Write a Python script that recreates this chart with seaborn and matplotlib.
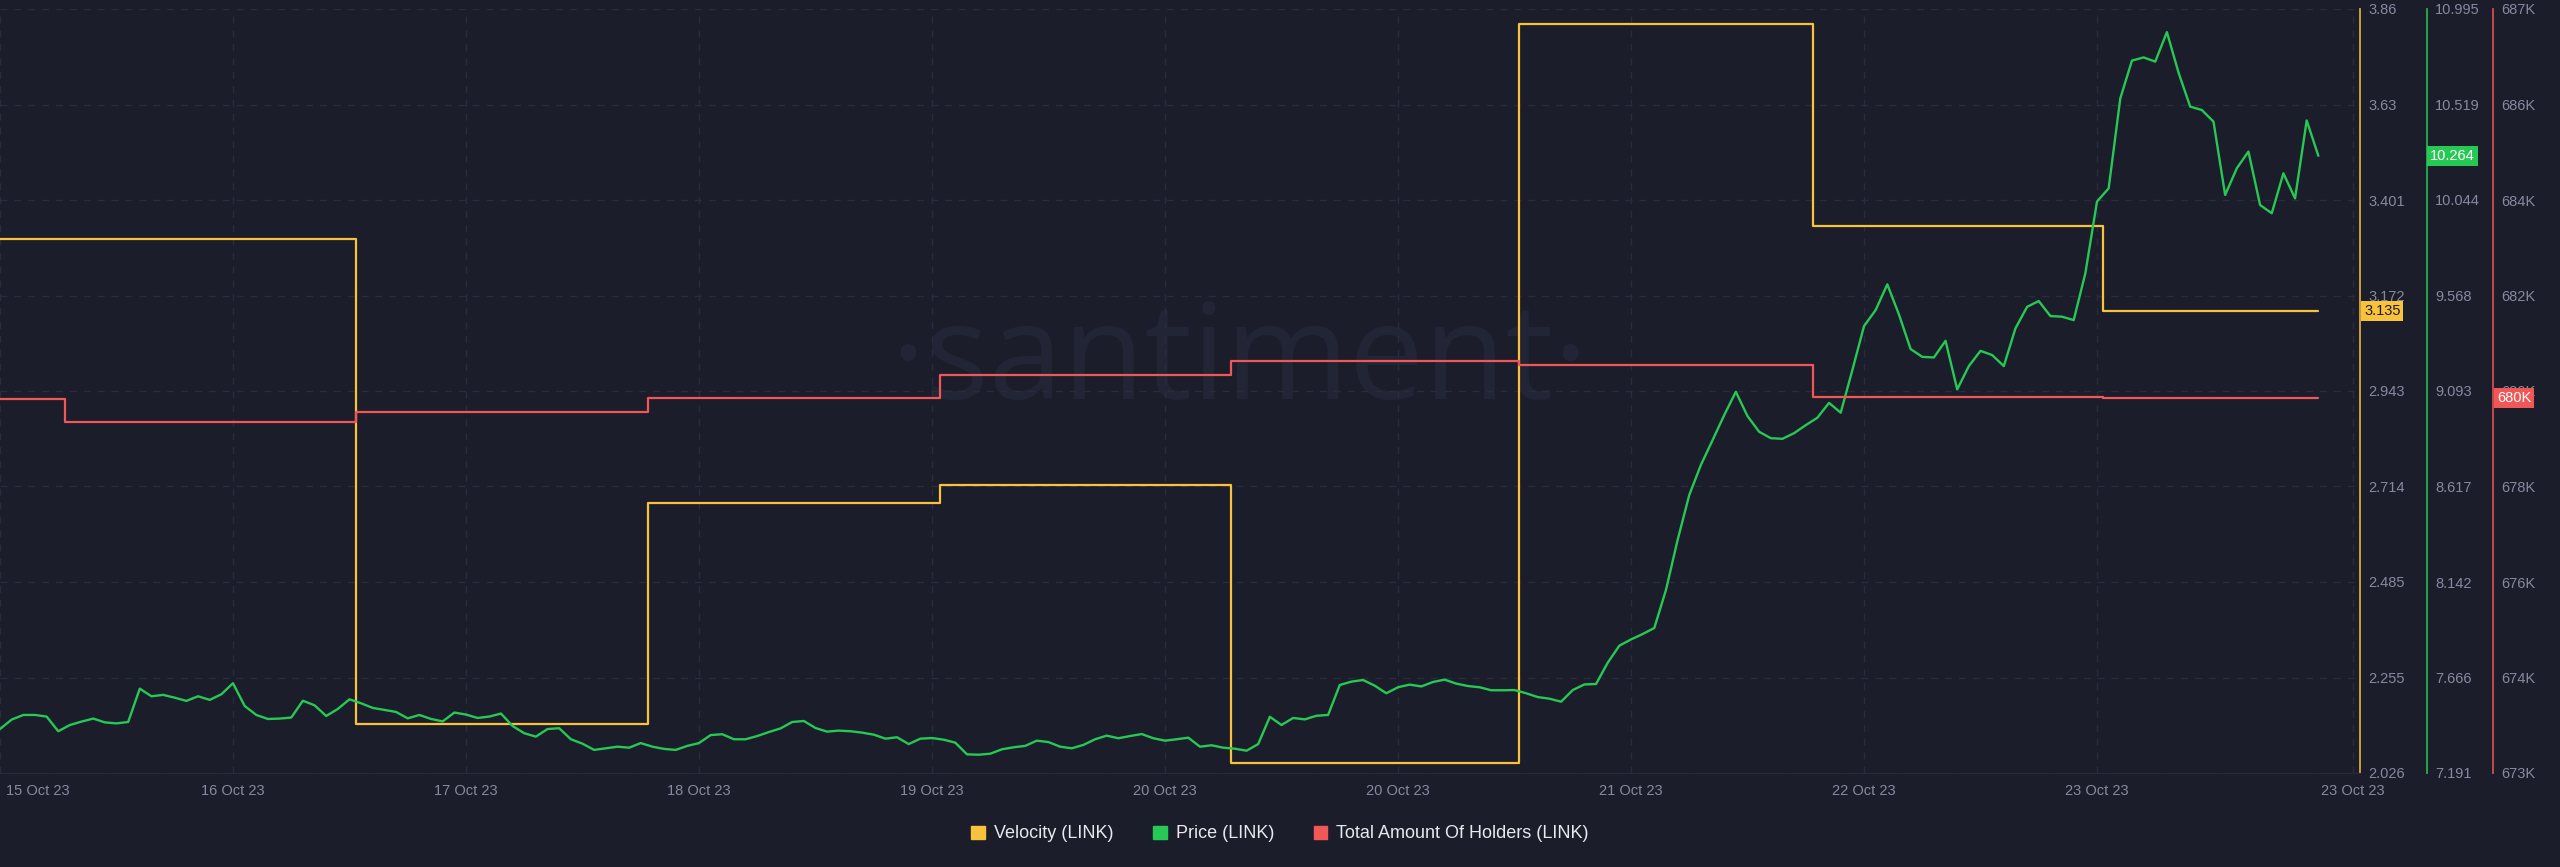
import numpy as np
import pandas as pd
import matplotlib
matplotlib.use("Agg")
import matplotlib.pyplot as plt
from matplotlib.patches import Patch
from matplotlib.transforms import ScaledTranslation
import seaborn as sns

# hourly LINK price
price = [
    7.410, 7.457, 7.480, 7.480, 7.472, 7.399, 7.430, 7.447, 7.462, 7.443,
    7.438, 7.445, 7.611, 7.573, 7.580, 7.566, 7.550, 7.573, 7.555, 7.583,
    7.638, 7.525, 7.480, 7.460, 7.462, 7.467, 7.551, 7.528, 7.475, 7.510,
    7.558, 7.538, 7.515, 7.505, 7.495, 7.463, 7.480, 7.460, 7.448, 7.492,
    7.482, 7.465, 7.472, 7.487, 7.425, 7.389, 7.372, 7.410, 7.414, 7.359,
    7.337, 7.306, 7.314, 7.322, 7.317, 7.340, 7.322, 7.311, 7.306, 7.326,
    7.340, 7.380, 7.384, 7.359, 7.359, 7.375, 7.395, 7.413, 7.445, 7.450,
    7.415, 7.397, 7.402, 7.399, 7.392, 7.382, 7.362, 7.369, 7.335, 7.362,
    7.365, 7.357, 7.342, 7.284, 7.282, 7.287, 7.309, 7.319, 7.326, 7.352,
    7.345, 7.322, 7.314, 7.331, 7.359, 7.377, 7.364, 7.375, 7.385, 7.364,
    7.352, 7.359, 7.367, 7.322, 7.329, 7.317, 7.312, 7.302, 7.335, 7.471,
    7.430, 7.465, 7.458, 7.476, 7.480, 7.629, 7.646, 7.654, 7.626, 7.588,
    7.618, 7.631, 7.622, 7.644, 7.656, 7.636, 7.624, 7.618, 7.603, 7.603,
    7.604, 7.588, 7.569, 7.561, 7.546, 7.604, 7.632, 7.634, 7.740, 7.825,
    7.856, 7.883, 7.913, 8.102, 8.351, 8.575, 8.725, 8.848, 8.973, 9.089,
    8.968, 8.890, 8.858, 8.855, 8.883, 8.923, 8.960, 9.034, 8.985, 9.197,
    9.416, 9.496, 9.624, 9.474, 9.302, 9.263, 9.260, 9.343, 9.101, 9.217,
    9.293, 9.272, 9.217, 9.405, 9.512, 9.541, 9.466, 9.463, 9.446, 9.679,
    10.036, 10.102, 10.550, 10.738, 10.754, 10.733, 10.880, 10.678, 10.509, 10.492,
    10.434, 10.069, 10.202, 10.285, 10.019, 9.978, 10.177, 10.052, 10.440, 10.264,
]
hours = list(range(len(price)))

# daily metrics, start hour of each value
velocity_start = [0, 30.6, 55.6, 80.7, 105.7, 130.4, 155.6, 180.5]
velocity = [3.309, 2.144, 2.674, 2.717, 2.051, 3.823, 3.339, 3.135]

holders_start = [0, 5.6, 30.6, 55.6, 80.7, 105.7, 130.4, 155.6, 180.5]
holders = [679845, 679390, 679590, 679858, 680304, 680587, 680510, 679890, 679862]

x_ticks = [0, 20, 40, 60, 80, 100, 120, 140, 160, 180, 202]
x_labels = ['15 Oct 23', '16 Oct 23', '17 Oct 23', '18 Oct 23', '19 Oct 23', '20 Oct 23',
            '20 Oct 23', '21 Oct 23', '22 Oct 23', '23 Oct 23', '23 Oct 23']

vel_ticks = [2.026, 2.255, 2.485, 2.714, 2.943, 3.172, 3.401, 3.63, 3.86]
price_ticks = [7.191, 7.666, 8.142, 8.617, 9.093, 9.568, 10.044, 10.519, 10.995]
holder_ticks = [672600, 674450, 676300, 678150, 680000, 681850, 683700, 685550, 687400]
holder_labels = ['673K', '674K', '676K', '678K', '680K', '682K', '684K', '686K', '687K']

BG = '#1b1d2b'
GRID = '#282c3d'
TXT = '#858a9e'
YELLOW = '#f9c23c'
GREEN = '#26c953'
RED = '#f25757'
FS = 10.5

sns.set_style('dark')
plt.rcParams['font.family'] = ['Liberation Sans', 'DejaVu Sans']

fig = plt.figure(figsize=(25.6, 8.67), dpi=100, facecolor=BG)
ax = fig.add_axes([0, 94 / 867, 2360 / 2560, 764 / 867])
ax.set_facecolor(BG)

end = hours[-1]
vel_df = pd.DataFrame({'hour': velocity_start + [end], 'value': velocity + velocity[-1:]})
hold_df = pd.DataFrame({'hour': holders_start + [end], 'value': holders + holders[-1:]})
price_df = pd.DataFrame({'hour': hours, 'value': price})

# watermark
ax.text(0.525, 0.535, '\u00b7santiment\u00b7', transform=ax.transAxes, ha='center', va='center',
        fontsize=96, color='#212536', family=['Open Sans', 'DejaVu Sans'], zorder=0)

sns.lineplot(data=vel_df, x='hour', y='value', ax=ax, color=YELLOW, lw=1.6,
             drawstyle='steps-post', estimator=None, zorder=3)
ax.set_xlim(0, 2360 / 11.65)
ax.set_ylim(vel_ticks[0], vel_ticks[-1])

ax2 = ax.twinx()
sns.lineplot(data=price_df, x='hour', y='value', ax=ax2, color=GREEN, lw=1.7, estimator=None, zorder=3)
ax2.set_ylim(price_ticks[0], price_ticks[-1])

ax3 = ax.twinx()
sns.lineplot(data=hold_df, x='hour', y='value', ax=ax3, color=RED, lw=1.6,
             drawstyle='steps-post', estimator=None, zorder=3)
ax3.set_ylim(holder_ticks[0], holder_ticks[-1])

# grid
ax.set_yticks(vel_ticks)
ax.set_yticklabels([str(v) for v in vel_ticks])
ax.set_xticks(x_ticks)
ax.set_xticklabels(x_labels)
ax.grid(True, color=GRID, lw=1, linestyle=(0, (5, 5)))

ax2.set_yticks(price_ticks)
ax2.set_yticklabels([str(v) for v in price_ticks])
ax3.set_yticks(holder_ticks)
ax3.set_yticklabels(holder_labels)

offsets = {ax: 1.0, ax2: 1 + 67 / 2360, ax3: 1 + 133 / 2360}
colors = {ax: YELLOW, ax2: GREEN, ax3: RED}
for a in (ax, ax2, ax3):
    a.set_ylabel('')
    a.set_xlabel('')
    for s in a.spines.values():
        s.set_visible(False)
    a.spines['right'].set_visible(True)
    a.spines['right'].set_position(('axes', offsets[a]))
    a.spines['right'].set_color(colors[a])
    a.spines['right'].set_alpha(0.85)
    a.spines['right'].set_linewidth(1.3)
    a.yaxis.tick_right()
    a.tick_params(axis='y', length=0, pad=6, labelsize=FS, labelcolor=TXT)
    if a is not ax:
        a.grid(False)

ax.spines['bottom'].set_visible(True)
ax.spines['bottom'].set_color('#262a3a')
ax.tick_params(axis='x', length=0, pad=8, labelsize=FS, labelcolor=TXT)
first = ax.get_xticklabels()[0]
first.set_ha('left')
first.set_transform(first.get_transform() + ScaledTranslation(6 / 100, 0, fig.dpi_scale_trans))

# last value badges
badge = dict(ha='left', va='center', fontsize=FS, zorder=10)
ax.text(1.0017, velocity[-1], f'{velocity[-1]:.3f}', transform=ax.get_yaxis_transform(),
        color='#1b1d2b', bbox=dict(boxstyle='square,pad=0.2', fc=YELLOW, ec='none'), **badge)
ax2.text(1 + 70 / 2360, price[-1], f'{price[-1]:.3f}', transform=ax2.get_yaxis_transform(),
         color='white', bbox=dict(boxstyle='square,pad=0.2', fc=GREEN, ec='none'), **badge)
ax3.text(1 + 137 / 2360, holders[-1], f'{round(holders[-1] / 1000)}K', transform=ax3.get_yaxis_transform(),
         color='white', bbox=dict(boxstyle='square,pad=0.2', fc=RED, ec='none'), **badge)

handles = [Patch(color=YELLOW, label='Velocity (LINK)'),
           Patch(color=GREEN, label='Price (LINK)'),
           Patch(color=RED, label='Total Amount Of Holders (LINK)')]
leg = fig.legend(handles=handles, loc='center', bbox_to_anchor=(0.5, 1 - 834 / 867), ncol=3,
                 frameon=False, fontsize=13, handlelength=0.75, handleheight=0.75,
                 handletextpad=0.5, columnspacing=2.2)
for t in leg.get_texts():
    t.set_color('#e8e8ee')

fig.savefig('out.png', dpi=100, facecolor=BG)
